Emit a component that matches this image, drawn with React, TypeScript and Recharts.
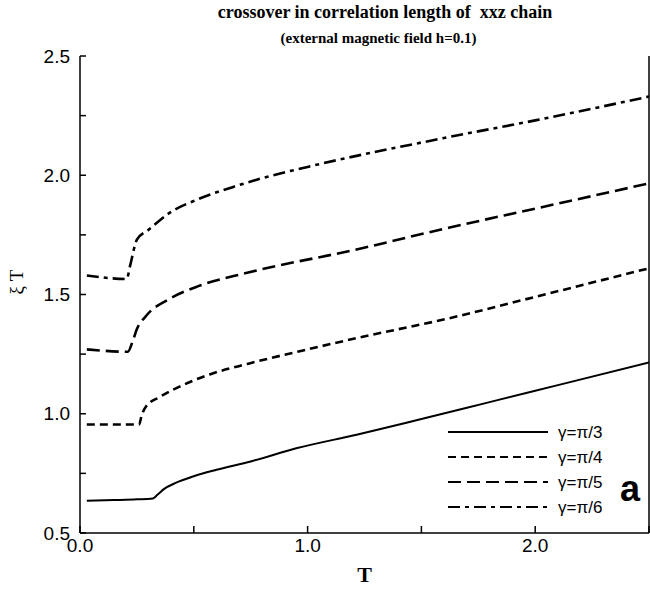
import { Line, LineChart, XAxis, YAxis } from 'recharts';

type Pt = { T: number; xi: number };

const gammaPi3: Pt[] = [
  { T: 0.03, xi: 0.635 }, { T: 0.15, xi: 0.638 }, { T: 0.25, xi: 0.641 }, { T: 0.32, xi: 0.645 },
  { T: 0.34, xi: 0.66 }, { T: 0.37, xi: 0.685 }, { T: 0.42, xi: 0.71 }, { T: 0.5, xi: 0.738 },
  { T: 0.6, xi: 0.765 }, { T: 0.75, xi: 0.8 }, { T: 0.95, xi: 0.855 }, { T: 1.22, xi: 0.913 },
  { T: 1.5, xi: 0.978 }, { T: 1.7, xi: 1.025 }, { T: 1.83, xi: 1.056 }, { T: 2.1, xi: 1.12 },
  { T: 2.5, xi: 1.215 },
];

const gammaPi4: Pt[] = [
  { T: 0.03, xi: 0.955 }, { T: 0.26, xi: 0.955 }, { T: 0.27, xi: 0.99 }, { T: 0.29, xi: 1.03 },
  { T: 0.35, xi: 1.07 }, { T: 0.44, xi: 1.115 }, { T: 0.57, xi: 1.165 }, { T: 0.74, xi: 1.21 },
  { T: 1.0, xi: 1.27 }, { T: 1.22, xi: 1.318 }, { T: 1.62, xi: 1.4 }, { T: 2.0, xi: 1.49 },
  { T: 2.5, xi: 1.61 },
];

const gammaPi5: Pt[] = [
  { T: 0.03, xi: 1.27 }, { T: 0.21, xi: 1.26 }, { T: 0.23, xi: 1.3 }, { T: 0.25, xi: 1.355 },
  { T: 0.29, xi: 1.41 }, { T: 0.39, xi: 1.48 }, { T: 0.52, xi: 1.535 }, { T: 0.73, xi: 1.59 },
  { T: 1.22, xi: 1.69 }, { T: 1.62, xi: 1.78 }, { T: 2.0, xi: 1.86 }, { T: 2.5, xi: 1.966 },
];

const gammaPi6: Pt[] = [
  { T: 0.03, xi: 1.58 }, { T: 0.205, xi: 1.565 }, { T: 0.22, xi: 1.62 }, { T: 0.25, xi: 1.73 },
  { T: 0.3, xi: 1.77 }, { T: 0.39, xi: 1.84 }, { T: 0.52, xi: 1.9 }, { T: 0.67, xi: 1.95 },
  { T: 0.79, xi: 1.985 }, { T: 1.0, xi: 2.035 }, { T: 1.62, xi: 2.16 }, { T: 2.0, xi: 2.23 },
  { T: 2.5, xi: 2.33 },
];

const seriesNames = ['γ=π/3', 'γ=π/4', 'γ=π/5', 'γ=π/6'];
const xTicks = [0, 0.5, 1, 1.5, 2, 2.5];
const yTicks = [0.5, 0.75, 1, 1.25, 1.5, 1.75, 2, 2.25, 2.5];

const dashes = ['', '8 5', '13 6', '12 5 4 5'];
const widths = [2, 2.6, 2.6, 2.6];

const sans = '"Liberation Sans", Arial, sans-serif';
const serif = '"Liberation Serif", "Times New Roman", serif';

// legend drawn on top of the plot, lower right corner
const LegendBox = () => (
  <svg width={210} height={100} style={{ position: 'absolute', left: 440, top: 420 }}>
    {seriesNames.map((name, i) => (
      <g key={name}>
        <line x1={8} x2={108} y1={12 + i * 25} y2={12 + i * 25} stroke='#000'
          strokeWidth={2.2} strokeDasharray={dashes[i]} />
        <text x={118} y={18 + i * 25} fontSize={17} fontFamily={sans}>{name}</text>
      </g>
    ))}
  </svg>
);

const App = () => {
  const series = [gammaPi3, gammaPi4, gammaPi5, gammaPi6];
  return (
    <div style={{ position: 'absolute', left: 0, top: 0, width: 650, height: 590, background: '#fff' }}>
      <div style={{ position: 'absolute', left: 0, width: 770, top: 2, textAlign: 'center',
        fontFamily: serif, fontWeight: 'bold', fontSize: 18 }}>
        crossover in correlation length of&nbsp; xxz chain
      </div>
      <div style={{ position: 'absolute', left: 0, width: 757, top: 30, textAlign: 'center',
        fontFamily: serif, fontWeight: 'bold', fontSize: 15 }}>
        (external magnetic field h=0.1)
      </div>
      <LineChart width={650} height={590} margin={{ top: 56, right: 0, left: 0, bottom: 0 }}>
        <XAxis xAxisId={0} dataKey='T' type='number' domain={[0, 2.5]} ticks={xTicks}
          allowDataOverflow height={57} stroke='#000' strokeWidth={1.5}
          tickSize={-7} tickMargin={13}
          tick={{ fill: '#000', fontSize: 19, fontFamily: sans }}
          tickFormatter={(v: number) => (v % 1 === 0 && v < 2.5 ? v.toFixed(1) : '')}
          label={{ value: 'T', position: 'insideBottom', offset: 8, fill: '#000',
            fontSize: 22, fontFamily: serif, fontWeight: 'bold' }} />
        <XAxis xAxisId='top' orientation='top' dataKey='T' type='number' domain={[0, 2.5]}
          ticks={xTicks} height={0} stroke='#000' strokeWidth={1.5} tickSize={-7} tick={false} />
        <YAxis yAxisId={0} type='number' domain={[0.5, 2.5]} ticks={yTicks} width={80}
          allowDataOverflow stroke='#000' strokeWidth={1.5} tickSize={-6} tickMargin={16}
          tick={{ fill: '#000', fontSize: 19, fontFamily: sans }}
          tickFormatter={(v: number) => ((v * 2) % 1 === 0 ? v.toFixed(1) : '')}
          label={{ value: 'ξ T', angle: -90, position: 'insideLeft', offset: 16, fill: '#000',
            fontSize: 19, fontFamily: serif }} />
        <YAxis yAxisId='right' orientation='right' type='number' domain={[0.5, 2.5]}
          width={1} stroke='#000' strokeWidth={1.5} tick={false} tickLine={false} />
        {series.map((d, i) => (
          <Line key={seriesNames[i]} data={d} dataKey='xi' name={seriesNames[i]}
            xAxisId={0} yAxisId={0} type='monotone' stroke='#000' strokeWidth={widths[i]}
            strokeDasharray={dashes[i]} dot={false} isAnimationActive={false} />
        ))}
      </LineChart>
      <LegendBox />
      <div style={{ position: 'absolute', left: 620, top: 468, fontFamily: sans, fontWeight: 'bold',
        fontSize: 36 }}>a</div>
    </div>
  );
};

export default App;
